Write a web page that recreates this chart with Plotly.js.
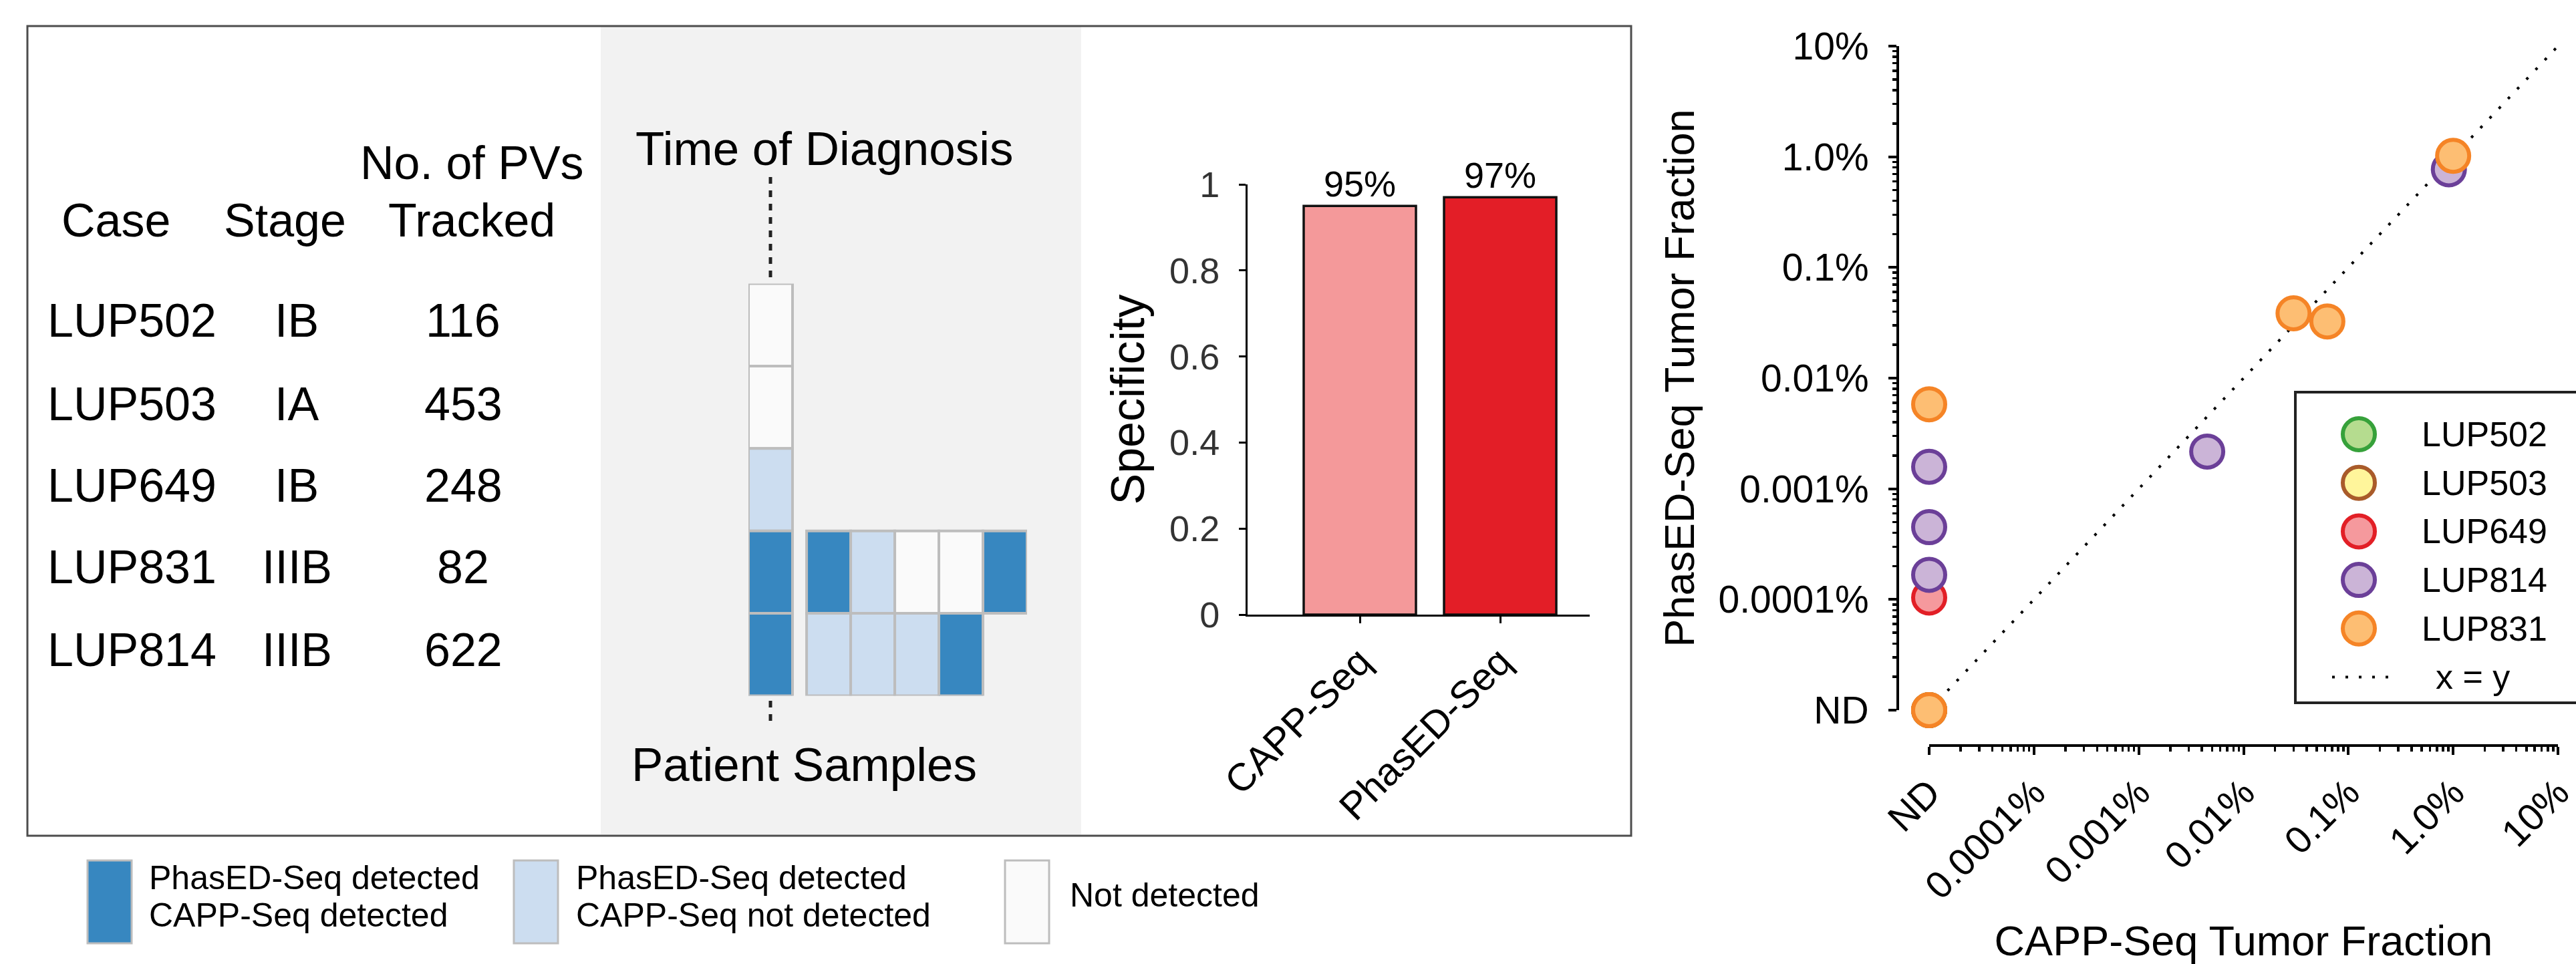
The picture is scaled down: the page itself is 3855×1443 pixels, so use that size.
<!DOCTYPE html>
<html><head><meta charset="utf-8">
<script src="https://cdn.plot.ly/plotly-3.0.1.min.js"></script>
<style>html,body{margin:0;padding:0;background:#fff;}#chart{width:3855px;height:1443px;}</style>
</head><body><div id="chart"></div>
<script>
// ---------------- data ----------------
const cases = ['LUP502', 'LUP503', 'LUP649', 'LUP831', 'LUP814'];
const stages = ['IB', 'IA', 'IB', 'IIIB', 'IIIB'];
const pvsTracked = [116, 453, 248, 82, 622];
const tableHeaders = ['Case', 'Stage', 'No. of PVs', 'Tracked'];

// detection status per sample: both / phased (PhasED only) / none
const diagnosisStatus = ['none', 'none', 'phased', 'both', 'both'];
const followupLUP831 = ['both', 'phased', 'none', 'none', 'both'];
const followupLUP814 = ['phased', 'phased', 'phased', 'both'];

const methods = ['CAPP-Seq', 'PhasED-Seq'];
const specificity = [0.95, 0.97];
const specificityLabels = ['95%', '97%'];
const specTickText = ['0', '0.2', '0.4', '0.6', '0.8', '1'];

// tumor fraction in percent; null = not detected (ND)
const scatterCases = ['LUP502', 'LUP503', 'LUP649', 'LUP814', 'LUP831'];
const cappLUP502 = [null];
const phasedLUP502 = [null];
const cappLUP503 = [null];
const phasedLUP503 = [null];
const cappLUP649 = [null];
const phasedLUP649 = [0.000104];
const cappLUP814 = [null, null, null, 0.0045, 0.91];
const phasedLUP814 = [0.00158, 0.00045, 0.000167, 0.00217, 0.77];
const cappLUP831 = [null, null, null, 0.030, 0.063, 1.0];
const phasedLUP831 = [null, null, 0.0058, 0.0385, 0.0325, 1.02];
const fracTickText = ['ND', '0.0001%', '0.001%', '0.01%', '0.1%', '1.0%', '10%'];

const legendStatusText = {
  both: ['PhasED-Seq detected', 'CAPP-Seq detected'],
  phased: ['PhasED-Seq detected', 'CAPP-Seq not detected'],
  none: ['Not detected']
};

// ---------------- styles ----------------
const W = 3855, H = 1443;
const X = p => p / W;
const Y = p => 1 - p / H;
const FONT = 'Liberation Sans, Arial, Helvetica, sans-serif';
const statusColor = { both: '#3787C0', phased: '#CCDDF0', none: '#FAFAFA' };
const cellBorder = '#BDBDBD';
const caseStyle = {
  LUP502: { fill: '#B5DC8F', line: '#36A13A' },
  LUP503: { fill: '#FFF59B', line: '#A95B2A' },
  LUP649: { fill: '#F5999D', line: '#E21F26' },
  LUP814: { fill: '#CBB4D7', line: '#6B3F98' },
  LUP831: { fill: '#FDBE73', line: '#F58426' }
};
const barColors = ['#F4999A', '#E31E27'];
const ND = 1e-5;                       // axis position used for "not detected"
const fracTickVals = fracTickText.map((t, i) => Math.pow(10, i - 5));
const minorVals = [];
for (let e = -5; e < 1; e++) for (let m = 2; m <= 9; m++) minorVals.push(m * Math.pow(10, e));
const DOT = '4px,16px';

// ---------------- traces ----------------
const traces = [];

// detection grid (cells as bars with explicit base = row)
const GAP = 0.32;
const cellX = [], cellBase = [], cellColor = [];
diagnosisStatus.forEach((s, i) => { cellX.push(0); cellBase.push(i); cellColor.push(statusColor[s]); });
[['LUP831', followupLUP831], ['LUP814', followupLUP814]].forEach(([c, arr]) => {
  const row = cases.indexOf(c);
  arr.forEach((s, j) => { cellX.push(1 + GAP + j); cellBase.push(row); cellColor.push(statusColor[s]); });
});
traces.push({
  type: 'bar', x: cellX, y: cellX.map(() => 1), base: cellBase, width: 1,
  marker: { color: cellColor, line: { color: cellBorder, width: 4 } },
  xaxis: 'x3', yaxis: 'y3', hoverinfo: 'skip'
});

// specificity bars
traces.push({
  type: 'bar', x: methods, y: specificity, width: 0.8,
  text: specificityLabels, textposition: 'outside', constraintext: 'none', cliponaxis: false,
  textfont: { size: 54, color: '#000', family: FONT },
  marker: { color: barColors, line: { color: '#111', width: 3.5 } },
  xaxis: 'x', yaxis: 'y', hoverinfo: 'skip'
});

// x = y reference line
traces.push({
  type: 'scatter', mode: 'lines', x: [fracTickVals[0], fracTickVals[fracTickVals.length - 1]],
  y: [fracTickVals[0], fracTickVals[fracTickVals.length - 1]],
  line: { color: '#000', width: 4, dash: DOT }, xaxis: 'x2', yaxis: 'y2', hoverinfo: 'skip'
});

const scatterData = {
  LUP502: [cappLUP502, phasedLUP502], LUP503: [cappLUP503, phasedLUP503],
  LUP649: [cappLUP649, phasedLUP649], LUP814: [cappLUP814, phasedLUP814],
  LUP831: [cappLUP831, phasedLUP831]
};
scatterCases.forEach(c => {
  const [xs, ys] = scatterData[c];
  traces.push({
    type: 'scatter', mode: 'markers', name: c,
    x: xs.map(v => v === null ? ND : v), y: ys.map(v => v === null ? ND : v),
    marker: { size: 48, color: caseStyle[c].fill, line: { color: caseStyle[c].line, width: 6 } },
    cliponaxis: false, xaxis: 'x2', yaxis: 'y2'
  });
});

// carrier trace for the minor-tick overlay axes (invisible)
traces.push({
  type: 'scatter', mode: 'markers', x: [ND], y: [ND], marker: { size: 1, opacity: 0 },
  xaxis: 'x5', yaxis: 'y5', hoverinfo: 'skip'
});

// custom legend markers for scatter
traces.push({
  type: 'scatter', mode: 'markers', x: scatterCases.map(() => 0), y: scatterCases.map((c, i) => i),
  marker: { size: 48, color: scatterCases.map(c => caseStyle[c].fill),
            line: { color: scatterCases.map(c => caseStyle[c].line), width: 6 } },
  cliponaxis: false, xaxis: 'x4', yaxis: 'y4', hoverinfo: 'skip'
});

// ---------------- shapes / annotations ----------------
const shapes = [
  { type: 'rect', xref: 'paper', yref: 'paper', x0: X(899), x1: X(1618), y0: Y(40), y1: Y(1249),
    fillcolor: '#F2F2F2', line: { width: 0 }, layer: 'below' },
  { type: 'rect', xref: 'paper', yref: 'paper', x0: X(41), x1: X(2441), y0: Y(39), y1: Y(1251),
    line: { color: '#4D4D4D', width: 3 } },
  { type: 'line', xref: 'paper', yref: 'paper', x0: X(1153), x1: X(1153), y0: Y(265), y1: Y(423),
    line: { color: '#222', width: 5, dash: '10px,10px' } },
  { type: 'line', xref: 'paper', yref: 'paper', x0: X(1153), x1: X(1153), y0: Y(1049), y1: Y(1088),
    line: { color: '#222', width: 5, dash: '10px,10px' } },
  { type: 'rect', xref: 'paper', yref: 'paper', x0: X(3435), x1: X(3870), y0: Y(587), y1: Y(1052),
    line: { color: '#222', width: 4 } },
  { type: 'line', xref: 'paper', yref: 'y4', x0: X(3490), x1: X(3578), y0: 5, y1: 5,
    line: { color: '#000', width: 4, dash: DOT } }
];

const annotations = [];
const ann = (text, x, y, size, xanchor, extra) => annotations.push(Object.assign({
  text, x, y, xref: 'paper', yref: 'paper', showarrow: false, xanchor: xanchor || 'center', yanchor: 'middle',
  font: { size, color: '#000', family: FONT }
}, extra || {}));

// table
ann(tableHeaders[0], X(173), Y(330), 70);
ann(tableHeaders[1], X(426), Y(330), 70);
ann(tableHeaders[2], X(706), Y(244), 70);
ann(tableHeaders[3], X(706), Y(330), 70);
const rowY = [480, 605, 727, 849, 973];
cases.forEach((c, i) => {
  ann(c, X(69), Y(rowY[i]), 70, 'left');
  ann(stages[i], X(444), Y(rowY[i]), 70);
  ann(String(pvsTracked[i]), X(693), Y(rowY[i]), 70);
});
ann('Time of Diagnosis', X(1234), Y(222), 71);
ann('Patient Samples', X(1203), Y(1144), 71);

// bottom legend
const legItems = [['both', 131, 221], ['phased', 769, 860], ['none', 1504, 1599]];
legItems.forEach(([s, sx, tx]) => {
  shapes.push({ type: 'rect', xref: 'paper', yref: 'paper', x0: X(sx), x1: X(sx + 66),
    y0: Y(1288), y1: Y(1412), fillcolor: statusColor[s], line: { color: cellBorder, width: 3 } });
  const lines = legendStatusText[s];
  if (lines.length === 2) {
    ann(lines[0], X(tx), Y(1314), 50, 'left');
    ann(lines[1], X(tx), Y(1370), 50, 'left');
  } else {
    ann(lines[0], X(tx), Y(1340), 50, 'left');
  }
});

// scatter legend labels
scatterCases.forEach((c, i) => annotations.push({
  text: c, x: X(3622), y: i, xref: 'paper', yref: 'y4', showarrow: false, xanchor: 'left', yanchor: 'middle',
  font: { size: 52, color: '#000', family: FONT }
}));
annotations.push({
  text: 'x = y', x: X(3700), y: 5, xref: 'paper', yref: 'y4', showarrow: false, xanchor: 'center', yanchor: 'middle',
  font: { size: 52, color: '#000', family: FONT }
});

// ---------------- layout ----------------
const hidden = { visible: false, showgrid: false, zeroline: false, fixedrange: true };
const SC_XDOM = [X(2887), X(3828)], SC_YDOM = [Y(1063), Y(69)];
const SC_XPOS = Y(1116), SC_YPOS = X(2840);
const layout = {
  width: W, height: H, margin: { l: 0, r: 0, t: 0, b: 0, pad: 0 },
  paper_bgcolor: '#ffffff', plot_bgcolor: 'rgba(0,0,0,0)', showlegend: false,
  font: { family: FONT, color: '#000' }, barmode: 'overlay',
  xaxis: {
    domain: [X(1867), X(2379)], range: [-0.8, 1.638], type: 'category', anchor: 'y',
    showline: true, linecolor: '#000', linewidth: 3, ticks: 'outside', ticklen: 10, tickwidth: 3,
    tickcolor: '#000', tickangle: -45, tickfont: { size: 58, color: '#000' },
    showgrid: false, zeroline: false, fixedrange: true
  },
  yaxis: {
    domain: [Y(920), Y(276)], range: [0, 1], anchor: 'x', tickmode: 'array',
    tickvals: specTickText.map(Number), ticktext: specTickText,
    showline: true, linecolor: '#000', linewidth: 3, ticks: 'outside', ticklen: 10, tickwidth: 3,
    tickcolor: '#000', tickfont: { size: 54, color: '#333' }, ticklabelstandoff: 18,
    title: { text: 'Specificity', font: { size: 70, color: '#000' }, standoff: 15 },
    showgrid: false, zeroline: false, fixedrange: true
  },
  xaxis2: {
    type: 'log', domain: SC_XDOM, range: [-5, 1], anchor: 'free', position: SC_XPOS,
    tickmode: 'array', tickvals: fracTickVals, ticktext: fracTickText, ticklabeloverflow: 'allow',
    showline: true, linecolor: '#000', linewidth: 4, ticks: 'outside', ticklen: 12, tickwidth: 4,
    tickcolor: '#000', tickangle: -45, tickfont: { size: 57, color: '#000' },
    title: { text: 'CAPP-Seq Tumor Fraction', font: { size: 63, color: '#000' }, standoff: 52 },
    showgrid: false, zeroline: false, fixedrange: true
  },
  yaxis2: {
    type: 'log', domain: SC_YDOM, range: [-5, 1], anchor: 'free', position: SC_YPOS,
    tickmode: 'array', tickvals: fracTickVals, ticktext: fracTickText,
    showline: true, linecolor: '#000', linewidth: 4, ticks: 'outside', ticklen: 12, tickwidth: 4,
    tickcolor: '#000', tickfont: { size: 57, color: '#000' }, ticklabelstandoff: 18,
    title: { text: 'PhasED-Seq Tumor Fraction', font: { size: 63, color: '#000' }, standoff: 15 },
    showgrid: false, zeroline: false, fixedrange: true
  },
  // overlay axes that only carry the log minor ticks
  xaxis5: {
    type: 'log', overlaying: 'x2', domain: SC_XDOM, range: [-5, 1], anchor: 'free', position: SC_XPOS,
    tickmode: 'array', tickvals: minorVals, showticklabels: false, showline: false,
    ticks: 'outside', ticklen: 8, tickwidth: 3.5, tickcolor: '#000',
    showgrid: false, zeroline: false, fixedrange: true
  },
  yaxis5: {
    type: 'log', overlaying: 'y2', domain: SC_YDOM, range: [-5, 1], anchor: 'free', position: SC_YPOS,
    tickmode: 'array', tickvals: minorVals, showticklabels: false, showline: false,
    ticks: 'outside', ticklen: 8, tickwidth: 3.5, tickcolor: '#000',
    showgrid: false, zeroline: false, fixedrange: true
  },
  xaxis3: Object.assign({ domain: [X(1120), X(1537)], range: [-0.5, 5.82], anchor: 'y3' }, hidden),
  yaxis3: Object.assign({ domain: [Y(1041.5), Y(424.5)], range: [5, 0], anchor: 'x3' }, hidden),
  xaxis4: Object.assign({ domain: [X(3480), X(3580)], range: [-1, 1], anchor: 'y4' }, hidden),
  yaxis4: Object.assign({ domain: [Y(1052), Y(587)], range: [5.53, -0.867], anchor: 'x4' }, hidden),
  shapes, annotations
};

Plotly.newPlot('chart', traces, layout, { staticPlot: true, displayModeBar: false });
</script>
</body></html>
